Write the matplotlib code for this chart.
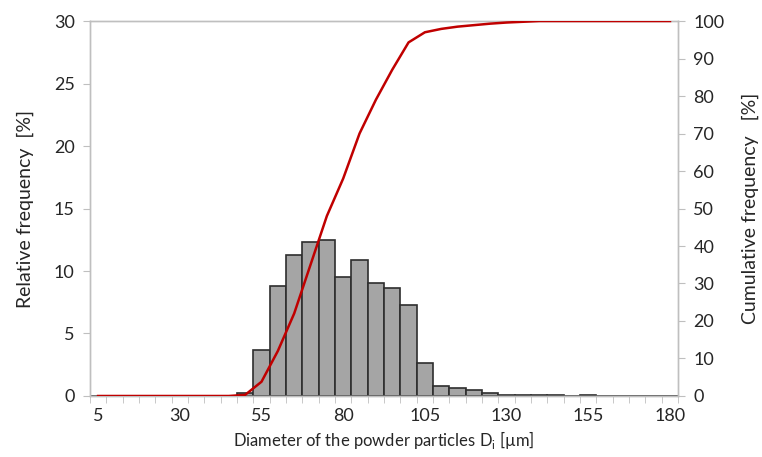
import matplotlib
matplotlib.use("Agg")
import matplotlib.pyplot as plt
import numpy as np

plt.rcParams['font.family'] = ['Lato', 'DejaVu Sans']
plt.rcParams['mathtext.fontset'] = 'custom'
plt.rcParams['mathtext.rm'] = 'Lato'

# particle diameter classes [um]
diameters = list(range(5, 185, 5))

# relative frequency per class [%]
rel_freq = [0, 0, 0, 0, 0, 0, 0, 0, 0,
            0.2, 3.7, 8.8, 11.3, 12.3, 12.5, 9.5, 10.9, 9.0, 8.6, 7.3,
            2.6, 0.8, 0.6, 0.45, 0.2, 0.1, 0.1, 0.1, 0.1, 0, 0.1,
            0, 0, 0, 0, 0]

# cumulative frequency [%]
cum_freq = [0, 0, 0, 0, 0, 0, 0, 0, 0,
            0.3, 3.8, 12.0, 22.0, 35.0, 48.0, 58.0, 70.0, 79.0, 87.0, 94.3,
            97.0, 97.9, 98.5, 98.9, 99.3, 99.6, 99.8, 100, 100, 100, 100,
            100, 100, 100, 100, 100]

tick_labels = [5, 30, 55, 80, 105, 130, 155, 180]

axis_grey = '#bfbfbf'
text_col = '#262626'

fig = plt.figure(figsize=(7.62, 4.57), dpi=100)
ax = fig.add_axes([0.118, 0.1335, 0.772, 0.8205])
ax2 = ax.twinx()

idx = np.arange(len(diameters))
ax.bar(idx, rel_freq, width=1.0, color='#a5a5a5', edgecolor='#2e2e2e', linewidth=1.2, zorder=2)
ax2.plot(idx, cum_freq, color='#c00000', linewidth=1.8, zorder=3)

ax.set_xlim(-0.5, len(diameters) - 0.5)
ax.set_ylim(0, 30)
ax2.set_ylim(0, 100)
ax.set_yticks(np.arange(0, 31, 5))
ax2.set_yticks(np.arange(0, 101, 10))

ax.set_xticks([diameters.index(v) for v in tick_labels])
ax.set_xticklabels([str(v) for v in tick_labels])
ax.set_xticks(np.arange(-0.5, len(diameters), 1.0), minor=True)
ax.tick_params(axis='x', which='major', length=0, pad=9)
ax.tick_params(axis='x', which='minor', length=5, color=axis_grey, direction='out')

for a in (ax, ax2):
    for s in a.spines.values():
        s.set_color(axis_grey)
        s.set_linewidth(1.0)
    a.tick_params(axis='y', length=5, color=axis_grey, labelsize=13, labelcolor=text_col)
    a.tick_params(axis='x', labelsize=13, labelcolor=text_col)

ax.tick_params(axis='y', pad=6)
ax2.tick_params(axis='y', pad=6)

ax.set_xlabel('Diameter of the powder particles D$_\\mathregular{i}$ [µm]', fontsize=12, color=text_col, labelpad=3)
ax.set_ylabel('Relative frequency  [%]', fontsize=14, color=text_col, va='center')
ax2.set_ylabel('Cumulative frequency   [%]', fontsize=14, color=text_col, va='center')
ax.yaxis.set_label_coords(-0.1105, 0.5)
ax2.yaxis.set_label_coords(1.122, 0.5)

fig.savefig('out.png', dpi=100)
